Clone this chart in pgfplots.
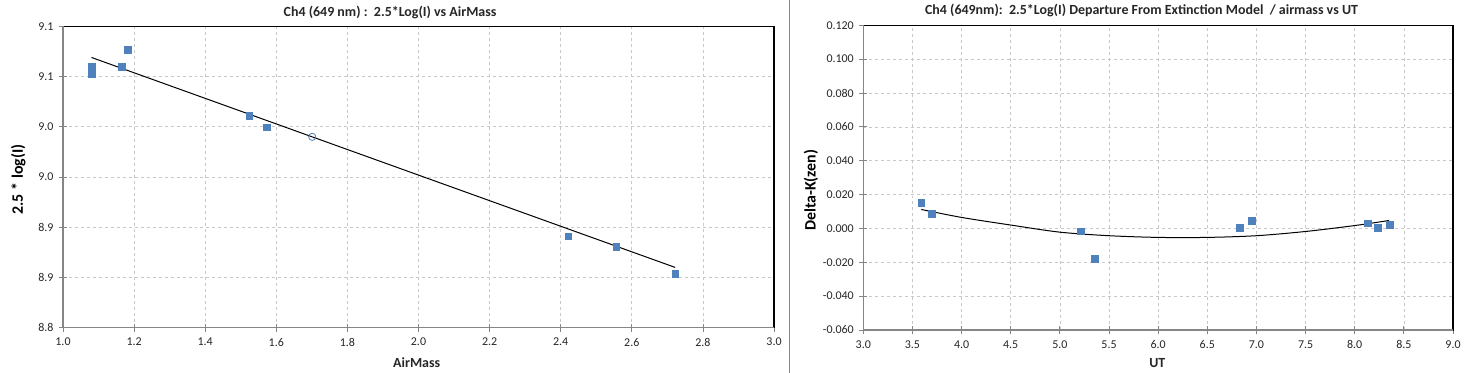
\documentclass[border=0pt]{standalone}
\usepackage{pgfplots}
\pgfplotsset{compat=1.18}
\usepackage{fontspec}
\setmainfont{Carlito}
\definecolor{mblue}{HTML}{4F81BD}
\definecolor{axgray}{HTML}{868686}
\definecolor{gridgray}{HTML}{C8C8C8}
\definecolor{txt}{HTML}{262626}
\pgfplotsset{
  mystyle/.style={
    scale only axis,
    anchor=south west,
    axis lines=box,
    axis line style={black, line width=1.2bp},
    tick style={axgray, line width=0.8bp},
    tick align=center,
    major tick length=8bp,
    xtick pos=bottom, ytick pos=left,
    grid=major,
    major grid style={dashed, gridgray, line width=0.7bp},
    ticklabel style={font=\fontsize{12}{14}\selectfont, text=txt},
    yticklabel style={xshift=-2bp},
    xticklabel style={yshift=-3bp},
    every axis title/.style={font=\bfseries\fontsize{14}{16}\selectfont, text=txt, anchor=center},
    xlabel style={font=\bfseries\fontsize{14}{16}\selectfont, text=txt, anchor=center},
    ylabel style={font=\bfseries\fontsize{16}{18}\selectfont, text=black, anchor=center},
    clip=false,
    after end axis/.code={\draw[axgray, line width=1.2bp] (rel axis cs:0,1) -- (rel axis cs:0,0) -- (rel axis cs:1,0);},
  },
  pts/.style={only marks, mark=square*, mark size=3.4bp, mark options={fill=mblue, draw=mblue}},
}
\begin{document}
\begin{tikzpicture}
\path[use as bounding box] (0bp,0bp) rectangle (1465bp,373bp);
\draw[axgray, line width=1bp] (789.5bp,0bp) -- (789.5bp,373bp);
\begin{axis}[mystyle,
  at={(63bp,45.3bp)}, width=711bp, height=301.4bp,
  xmin=1, xmax=3, ymin=8.8, ymax=9.1,
  xtick={1,1.2,1.4,1.6,1.8,2.0,2.2,2.4,2.6,2.8,3.0},
  xticklabels={1.0,1.2,1.4,1.6,1.8,2.0,2.2,2.4,2.6,2.8,3.0},
  ytick={8.80,8.85,8.90,8.95,9.00,9.05,9.10},
  yticklabels={8.8,8.9,8.9,9.0,9.0,9.1,9.1},
  title={Ch4 (649 nm) :\ \ 2.5*Log(I) vs AirMass},
  title style={at={(axis description cs:0.46,1.0465)}},
  xlabel={AirMass},
  xlabel style={at={(axis description cs:0.4975,-0.117)}},
  ylabel={2.5 * log(I)},
  ylabel style={at={(axis description cs:-0.0629,0.4917)}},
]
\addplot[black, line width=1bp] coordinates {(1.08,9.069) (2.722,8.860)};
\addplot[pts] coordinates {
(1.08,9.0598) (1.08,9.0525) (1.164,9.060) (1.181,9.077) (1.524,9.0114)
(1.572,8.9995) (2.421,8.891) (2.556,8.881) (2.722,8.8538)};
\addplot[only marks, mark=o, mark size=3.6bp, mark options={draw=mblue, line width=0.8bp}] coordinates {(1.701,8.990)};
\end{axis}
\begin{axis}[mystyle,
  at={(863.3bp,43bp)}, width=589.7bp, height=304.7bp,
  xmin=3, xmax=9, ymin=-0.06, ymax=0.12,
  xtick={3,3.5,4,4.5,5,5.5,6,6.5,7,7.5,8,8.5,9},
  xticklabels={3.0,3.5,4.0,4.5,5.0,5.5,6.0,6.5,7.0,7.5,8.0,8.5,9.0},
  ytick={-0.06,-0.04,-0.02,0,0.02,0.04,0.06,0.08,0.1,0.12},
  yticklabels={-0.060,-0.040,-0.020,0.000,0.020,0.040,0.060,0.080,0.100,0.120},
  title={Ch4 (649nm):\ \ 2.5*Log(I) Departure From Extinction Model\ \ / airmass vs UT},
  title style={at={(axis description cs:0.4718,1.0479)}},
  xlabel={UT},
  xlabel style={at={(axis description cs:0.4986,-0.1073)}},
  ylabel={Delta-K(zen)},
  ylabel style={at={(axis description cs:-0.0887,0.4588)}},
]
\addplot[black, line width=1bp, smooth] coordinates {
(3.59,0.0112) (4.0,0.0065) (4.5,0.0020) (5.0,-0.0022) (5.5,-0.0043) (6.0,-0.0053)
(6.5,-0.0053) (7.0,-0.0043) (7.5,-0.0018) (8.0,0.0017) (8.35,0.0047)};
\addplot[pts] coordinates {
(3.590,0.0154) (3.692,0.0089) (5.208,-0.0016) (5.351,-0.018) (6.826,0.0004)
(6.948,0.0047) (8.129,0.0031) (8.231,0.0002) (8.353,0.0024)};
\end{axis}
\end{tikzpicture}
\end{document}
